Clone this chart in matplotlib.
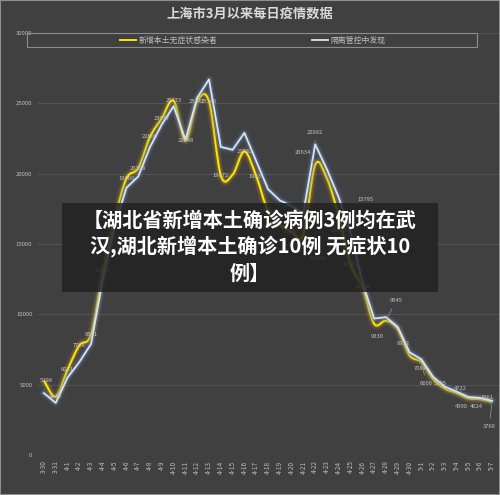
import numpy as np
import matplotlib.pyplot as plt
import matplotlib.patheffects as pe
from matplotlib.path import Path
from matplotlib.patches import PathPatch, Rectangle
from matplotlib.lines import Line2D

plt.rcParams['font.family'] = ['Noto Sans CJK SC', 'DejaVu Sans']

# ------------------------------------------------------------
# 数据
# ------------------------------------------------------------
dates = ['3-30', '3-31', '4-1', '4-2', '4-3', '4-4', '4-5', '4-6', '4-7', '4-8',
         '4-9', '4-10', '4-11', '4-12', '4-13', '4-14', '4-15', '4-16', '4-17',
         '4-18', '4-19', '4-20', '4-21', '4-22', '4-23', '4-24', '4-25', '4-26',
         '4-27', '4-28', '4-29', '4-30', '5-1', '5-2', '5-3', '5-4', '5-5',
         '5-6', '5-7']

# 新增本土无症状感染者
asymptomatic = [5298, 4144, 6051, 7788, 8581, 13086, 16766, 19660, 20398, 22609,
                23937, 25173, 22348, 25141, 25146, 19872, 19923, 21582, 19831,
                17332, 16407, 15861, 15698, 20634, 19657, 16983, 13562, 11956,
                9330, 9545, 8932, 7084, 6606, 5395, 4722, 4390, 4024, 3961, 3760]

# 隔离管控中发现
quarantine = [4400, 3700, 5500, 6600, 7900, 12500, 16300, 19000, 19800, 21900,
              23500, 24800, 22400, 25400, 26700, 21900, 21700, 22900, 20900,
              18900, 18100, 17700, 17235, 22082, 20300, 18300, 15795, 12300,
              9700, 9800, 9100, 7300, 6800, 5550, 4850, 4500, 4120, 4060, 3850]

series_names = ['新增本土无症状感染者', '隔离管控中发现']

# 标签偏移 (dx, dy 像素, 是否引导线)；None 表示不显示
label_offsets = {
    0: (2, 0, False), 6: None, 16: None, 20: None, 22: (14, -24, True),
    23: (-12, 12, True), 24: None, 25: (0, -14, True), 28: (3, -13, False),
    29: (10, 20, True), 30: (6, -14, False), 31: (11, -13, False),
    32: (5, -21, True), 33: (7, -4, False), 34: (15, 0, True),
    35: (5, -13, False), 36: (8, -8, False), 37: (7, 2, False),
    38: (-3, -24, True),
}
white_labels = {22: (-2, 6, False), 23: (0, 12, True), 26: (15, 33, True)}

W, H = 500, 495
BG = '#404040'
TXT = '#bdbdbd'


def smooth_path(xs, ys):
    """Excel 风格平滑线：Catmull-Rom 转 Bezier"""
    pts = np.column_stack([xs, ys]).astype(float)
    n = len(pts)
    verts, codes = [pts[0]], [Path.MOVETO]
    for i in range(n - 1):
        p0 = pts[max(i - 1, 0)]
        p1 = pts[i]
        p2 = pts[i + 1]
        p3 = pts[min(i + 2, n - 1)]
        verts += [p1 + (p2 - p0) / 6, p2 - (p3 - p1) / 6, p2]
        codes += [Path.CURVE4] * 3
    return Path(verts, codes)


fig = plt.figure(figsize=(W / 100, H / 100), dpi=100)
fig.patch.set_facecolor(BG)

ax = fig.add_axes([38 / W, 1 - 455 / H, (498 - 38) / W, (455 - 33) / H])
ax.set_facecolor(BG)
x = np.arange(len(dates))
ax.set_xlim(-0.5, len(dates) - 0.5)
ax.set_ylim(0, 30000)
ax.set_yticks(np.arange(0, 30001, 5000))
ax.set_yticklabels([str(v) for v in range(0, 30001, 5000)], fontsize=4.3)
ax.set_xticks(x)
ax.set_xticklabels(dates, rotation=90, fontsize=4.6)
ax.tick_params(length=0, colors=TXT, pad=4)
ax.yaxis.grid(True, color='#535353', lw=0.8)
ax.set_axisbelow(True)
for s in ax.spines.values():
    s.set_visible(False)

# 黄色平滑线（带橙色光晕）
yellow = PathPatch(smooth_path(x, asymptomatic), fill=False, edgecolor='#f2ee00',
                   lw=1.4, zorder=3,
                   path_effects=[pe.Stroke(linewidth=6, foreground='#b0772c', alpha=0.18),
                                 pe.Stroke(linewidth=3.5, foreground='#c98a30', alpha=0.35),
                                 pe.Normal()])
ax.add_patch(yellow)

# 白色折线（带蓝色光晕）
ax.plot(x, quarantine, color='#dde3ee', lw=1.3, zorder=3.5,
        path_effects=[pe.Stroke(linewidth=6, foreground='#4f6f9a', alpha=0.18),
                      pe.Stroke(linewidth=3.5, foreground='#6a88b3', alpha=0.35),
                      pe.Normal()])

# 数据标签
lab_kw = dict(fontsize=4.2, color='#c4c4c4', ha='center', va='center',
              textcoords='offset pixels', zorder=4)
for i, v in enumerate(asymptomatic):
    off = label_offsets.get(i, (0, 0, False))
    if off is None:
        continue
    dx, dy, lead = off
    arrow = dict(arrowstyle='-', color='#9a9a9a', lw=0.5) if lead else None
    ax.annotate(str(v), (i, v), xytext=(dx, dy), arrowprops=arrow, **lab_kw)
for i, (dx, dy, lead) in white_labels.items():
    arrow = dict(arrowstyle='-', color='#9a9a9a', lw=0.5) if lead else None
    ax.annotate(str(quarantine[i]), (i, quarantine[i]), xytext=(dx, dy),
                arrowprops=arrow, **lab_kw)

# 标题
fig.text(0.5, 1 - 14 / H, '上海市3月以来每日疫情数据', ha='center', va='center',
         fontsize=9.5, color='#d9d9d9', fontweight='bold')

# 图例
handles = [Line2D([], [], color='#f2ee00', lw=1.4),
           Line2D([], [], color='#dde3ee', lw=1.3)]
fig.legend(handles, series_names, loc='center', bbox_to_anchor=(253 / W, 1 - 40 / H),
           ncol=2, frameon=False, fontsize=5.7, labelcolor=TXT,
           handlelength=2, handletextpad=0.3, columnspacing=12)
fig.add_artist(Rectangle((27 / W, 1 - 47 / H), 450 / W, 14 / H, transform=fig.transFigure,
                         fill=False, edgecolor='#8c8c8c', lw=0.8))

# 新闻横幅
fig.add_artist(Rectangle((62 / W, 1 - 292 / H), 376 / W, 89 / H, transform=fig.transFigure,
                         facecolor='#222222', edgecolor='none', alpha=0.85, zorder=10))
banner_lines = ['【湖北省新增本土确诊病例3例均在武',
                '汉,湖北新增本土确诊10例 无症状10',
                '例】']
for k, line in enumerate(banner_lines):
    fig.text(250 / W, 1 - (220 + 26.5 * k) / H, line, ha='center', va='center',
             fontsize=14.5, color='white', fontweight='bold', zorder=11)

# 外框
fig.add_artist(Rectangle((0, 0), 1, 1, transform=fig.transFigure, fill=False,
                         edgecolor='#8f8f8f', lw=1.5, zorder=12))

fig.savefig('out.png', dpi=100, facecolor=fig.get_facecolor())
